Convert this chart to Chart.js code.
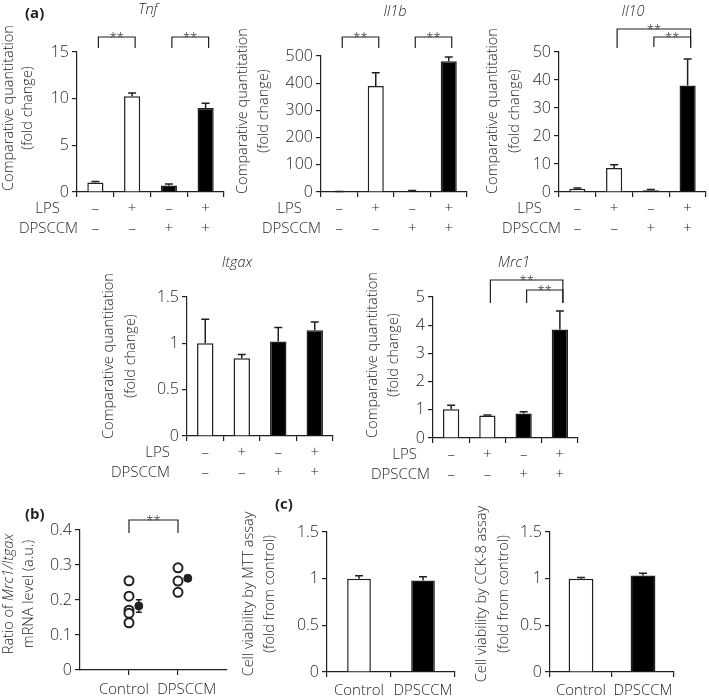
<!DOCTYPE html>
<html>
<head>
<meta charset="utf-8">
<script src="https://cdn.jsdelivr.net/npm/chart.js@4.4.1/dist/chart.umd.min.js"></script>
<style>
html, body { margin: 0; padding: 0; background: #fff; }
#fig { position: relative; width: 709px; height: 698px; }
#fig canvas { position: absolute; left: 0; top: 0; }
</style>
</head>
<body>
<div id="fig">
  <canvas id="tnf" width="709" height="698"></canvas>
  <canvas id="il1b" width="709" height="698"></canvas>
  <canvas id="il10" width="709" height="698"></canvas>
  <canvas id="itgax" width="709" height="698"></canvas>
  <canvas id="mrc1" width="709" height="698"></canvas>
  <canvas id="ratio" width="709" height="698"></canvas>
  <canvas id="mtt" width="709" height="698"></canvas>
  <canvas id="cck8" width="709" height="698"></canvas>
</div>
<script>
// treatment rows under the qPCR bars
var rowNames = ['LPS', 'DPSCCM'];
var lpsRow = ['–', '+', '–', '+'];
var dpsccmRow = ['–', '–', '+', '+'];
var barFill = ['#ffffff', '#ffffff', '#000000', '#000000'];

// (a) comparative quantitation, mean and upper SE
var tnfMean = [1.03, 10.25, 0.7, 9.0];
var tnfErr = [0.1, 0.35, 0.15, 0.5];
var il1bMean = [1.5, 390, 4, 481];
var il1bErr = [0.5, 48, 1.5, 15];
var il10Mean = [1.1, 8.6, 0.6, 38];
var il10Err = [0.35, 1.1, 0.3, 9.5];
var itgaxMean = [1.0, 0.84, 1.02, 1.14];
var itgaxErr = [0.26, 0.04, 0.15, 0.09];
var mrc1Mean = [1.02, 0.8, 0.87, 3.85];
var mrc1Err = [0.14, 0.02, 0.06, 0.65];

// y ranges: min, max, step
var tnfRange = [0, 15, 5];
var il1bRange = [0, 500, 100];
var il10Range = [0, 50, 10];
var itgaxRange = [0, 1.5, 0.5];
var mrc1Range = [0, 5, 1];
var ratioRange = [0, 0.4, 0.1];
var viabRange = [0, 1.5, 0.5];

// (b) Mrc1/Itgax ratio
var groups = ['Control', 'DPSCCM'];
var ratioControl = [0.255, 0.211, 0.171, 0.162, 0.135];
var ratioDPSCCM = [0.292, 0.254, 0.222];
var ratioMean = [0.183, 0.262];
var ratioErr = [0.018, 0.008];

// (c) cell viability
var mttMean = [1.0, 0.98];
var mttErr = [0.03, 0.04];
var cck8Mean = [1.0, 1.035];
var cck8Err = [0.012, 0.022];

var ink = '#231f20';
var fam = '"Open Sans", "Noto Sans", sans-serif';
var W = 709, H = 698;

function pad(box, yW, xH) {
    return { left: box[0] - yW, top: box[1], right: W - box[2], bottom: H - box[3] - xH };
}

function rich(ctx, parts) {
    var total = 0;
    parts.forEach(function (p) {
        ctx.font = (p[1] ? 'italic ' : '') + '300 14.5px ' + fam;
        total += ctx.measureText(p[0]).width;
    });
    var x = -total / 2;
    ctx.textAlign = 'left';
    parts.forEach(function (p) {
        ctx.font = (p[1] ? 'italic ' : '') + '300 14.5px ' + fam;
        ctx.fillText(p[0], x, 0);
        x += ctx.measureText(p[0]).width;
    });
}

function xAt(chart, i) {
    if (chart.config.type === 'bar') return chart.getDatasetMeta(0).data[i].x;
    return chart.scales.x.getPixelForValue(i + 1);
}

var errorBars = {
    id: 'errorBars',
    afterDatasetsDraw: function (chart) {
        var ctx = chart.ctx, y = chart.scales.y;
        ctx.save();
        ctx.strokeStyle = ink;
        ctx.lineWidth = 1.5;
        chart.data.datasets.forEach(function (ds, di) {
            if (!ds.err) return;
            chart.getDatasetMeta(di).data.forEach(function (el, i) {
                var v = typeof ds.data[i] === 'object' ? ds.data[i].y : ds.data[i];
                var hi = y.getPixelForValue(v + ds.err[i]);
                var lo = ds.errBoth ? y.getPixelForValue(v - ds.err[i]) : el.y;
                var cap = ds.capHalf || 4;
                ctx.beginPath();
                ctx.moveTo(el.x, lo);
                ctx.lineTo(el.x, hi);
                ctx.moveTo(el.x - cap, hi);
                ctx.lineTo(el.x + cap, hi);
                if (ds.errBoth) {
                    ctx.moveTo(el.x - cap, lo);
                    ctx.lineTo(el.x + cap, lo);
                }
                ctx.stroke();
            });
        });
        ctx.restore();
    }
};

function decor(d) {
    return {
        id: 'decor',
        afterDraw: function (chart) {
            var ctx = chart.ctx, a = chart.chartArea;
            ctx.save();
            ctx.fillStyle = ink;
            ctx.strokeStyle = ink;
            ctx.textBaseline = 'middle';
            if (d.letter) {
                ctx.font = 'bold 15px ' + fam;
                ctx.textAlign = 'left';
                ctx.fillText(d.letter[0], d.letter[1], d.letter[2]);
            }
            if (d.title) {
                ctx.font = 'italic 300 14.5px ' + fam;
                ctx.textAlign = 'center';
                ctx.fillText(d.title[0], d.title[1], d.title[2]);
            }
            d.yTitle.forEach(function (line, k) {
                ctx.save();
                ctx.translate(d.yTitleX[k], d.yTitleY);
                ctx.rotate(-Math.PI / 2);
                rich(ctx, typeof line === 'string' ? [[line, false]] : line);
                ctx.restore();
            });
            if (d.rowX) {
                ctx.font = '300 15px ' + fam;
                ctx.textAlign = 'right';
                ctx.fillText(rowNames[0], d.rowX[0], a.bottom + 17);
                ctx.fillText(rowNames[1], d.rowX[1], a.bottom + 37);
            }
            (d.brackets || []).forEach(function (b) {
                var sh = d.shift === undefined ? 3 : d.shift;
                var x1 = xAt(chart, b[0]) + sh, x2 = xAt(chart, b[1]) + sh;
                var yl = a.top + b[2], ya = a.top + b[3];
                ctx.lineWidth = 1.2;
                ctx.beginPath();
                ctx.moveTo(x1, ya);
                ctx.lineTo(x1, yl);
                ctx.lineTo(x2, yl);
                ctx.lineTo(x2, ya);
                ctx.stroke();
                ctx.font = '300 13px ' + fam;
                ctx.textAlign = 'center';
                ctx.textBaseline = 'alphabetic';
                ctx.fillText('**', (x1 + x2) / 2, yl + 5);
                ctx.textBaseline = 'middle';
            });
            ctx.restore();
        }
    };
}

function plainNum(v) {
    return String(Math.round(v * 100) / 100);
}

function yScale(range) {
    return {
        min: range[0], max: range[1],
        afterFit: function (s) { s.width = 40; },
        border: { display: true, color: ink, width: 1.2 },
        grid: { display: true, drawOnChartArea: false, drawTicks: true, tickLength: 5, color: ink, lineWidth: 1.2 },
        ticks: { stepSize: range[2], color: ink, padding: 3, font: { family: fam, size: 16, weight: '300' }, callback: plainNum }
    };
}

function barChart(id, o) {
    return new Chart(document.getElementById(id), {
        type: 'bar',
        data: {
            labels: o.labels,
            datasets: [{
                data: o.mean, err: o.err,
                backgroundColor: o.fill, borderColor: ink, borderWidth: 1.5,
                barPercentage: o.barPct, categoryPercentage: 1
            }]
        },
        options: {
            responsive: false, animation: false, events: [],
            layout: { padding: pad(o.box, 40, o.xH) },
            plugins: { legend: { display: false }, tooltip: { enabled: false } },
            scales: {
                x: {
                    offset: true,
                    afterFit: function (s) { s.height = o.xH; },
                    border: { display: true, color: ink, width: 1.2 },
                    grid: { display: true, drawOnChartArea: false, drawTicks: true, tickLength: 5, color: ink, lineWidth: 1.2, offset: true },
                    ticks: { color: ink, padding: o.tickPad, maxRotation: 0, autoSkip: false,
                        font: { family: fam, size: 15, weight: '300', lineHeight: 20 / 15 } }
                },
                y: yScale(o.range)
            }
        },
        plugins: [errorBars, decor(o.decor)]
    });
}

var treatLabels = lpsRow.map(function (s, i) { return [s, dpsccmRow[i]]; });
var qTitle = ['Comparative quantitation', '(fold change)'];

barChart('tnf', {
    labels: treatLabels, mean: tnfMean, err: tnfErr, fill: barFill, range: tnfRange,
    box: [77, 52, 224, 192], xH: 50, tickPad: 2, barPct: 0.44,
    decor: { letter: ['(a)', 25, 14], title: ['Tnf', 148, 10], yTitle: qTitle, yTitleX: [9, 28], yTitleY: 108,
        rowX: [60, 78], brackets: [[0, 1, -15, -4], [2, 3, -15, -4]] }
});
barChart('il1b', {
    labels: treatLabels, mean: il1bMean, err: il1bErr, fill: barFill, range: il1bRange,
    box: [321, 56, 467, 192], xH: 50, tickPad: 2, barPct: 0.44,
    decor: { title: ['Il1b', 395, 12], yTitle: qTitle, yTitleX: [243, 264], yTitleY: 111,
        rowX: [302, 321], brackets: [[0, 1, -19, -8], [2, 3, -19, -8]] }
});
barChart('il10', {
    labels: treatLabels, mean: il10Mean, err: il10Err, fill: barFill, range: il10Range,
    box: [559, 52, 706, 192], xH: 50, tickPad: 2, barPct: 0.44,
    decor: { title: ['Il10', 633, 12], yTitle: qTitle, yTitleX: [493, 515], yTitleY: 111,
        rowX: [542, 561], brackets: [[1, 3, -23, -4], [2, 3, -15, -5]] }
});
barChart('itgax', {
    labels: treatLabels, mean: itgaxMean, err: itgaxErr, fill: barFill, range: itgaxRange,
    box: [187, 297, 333, 436], xH: 50, tickPad: 2, barPct: 0.45,
    decor: { title: ['Itgax', 237, 263], yTitle: qTitle, yTitleX: [109, 131], yTitleY: 356,
        rowX: [170, 170] }
});
barChart('mrc1', {
    labels: treatLabels, mean: mrc1Mean, err: mrc1Err, fill: barFill, range: mrc1Range,
    box: [433, 297, 578, 438], xH: 50, tickPad: 2, barPct: 0.45,
    decor: { title: ['Mrc1', 514, 263], yTitle: qTitle, yTitleX: [373, 394], yTitleY: 355,
        rowX: [417, 430], brackets: [[1, 3, -17, 6], [2, 3, -7, 6]] }
});

// labels sit a little off their tick marks in panel (b); spaces nudge them apart
var ratioTickText = [groups[0] + '\u2002\u2009', '\u2003\u2009' + groups[1]];

new Chart(document.getElementById('ratio'), {
    type: 'scatter',
    data: {
        datasets: [{
            data: ratioControl.map(function (v) { return { x: 1, y: v }; }),
            pointRadius: 4.5, pointBorderWidth: 2, pointBorderColor: ink, pointBackgroundColor: '#ffffff'
        }, {
            data: ratioDPSCCM.map(function (v) { return { x: 2, y: v }; }),
            pointRadius: 4.5, pointBorderWidth: 2, pointBorderColor: ink, pointBackgroundColor: '#ffffff'
        }, {
            data: ratioMean.map(function (v, i) { return { x: i + 1.2, y: v }; }),
            err: ratioErr, errBoth: true, capHalf: 3,
            pointRadius: 4, pointBorderWidth: 1, pointBorderColor: ink, pointBackgroundColor: ink
        }]
    },
    options: {
        responsive: false, animation: false, events: [],
        layout: { padding: pad([80, 530, 227, 670], 40, 25) },
        plugins: { legend: { display: false }, tooltip: { enabled: false } },
        scales: {
            x: {
                type: 'linear', min: 0, max: 3,
                afterFit: function (s) { s.height = 25; },
                afterBuildTicks: function (s) { s.ticks = groups.map(function (g, i) { return { value: i + 1 }; }); },
                border: { display: true, color: ink, width: 1.2 },
                grid: { display: true, drawOnChartArea: false, drawTicks: true, tickLength: 5, color: ink, lineWidth: 1.2 },
                ticks: { color: ink, padding: 6, maxRotation: 0, autoSkip: false, font: { family: fam, size: 15, weight: '300' },
                    callback: function (v) { return ratioTickText[Math.round(v) - 1]; } }
            },
            y: yScale(ratioRange)
        }
    },
    plugins: [errorBars, decor({ letter: ['(b)', 25, 515],
        yTitle: [[['Ratio of ', false], ['Mrc1/Itgax', true]], 'mRNA level (a.u.)'], yTitleX: [9, 29], yTitleY: 594,
        shift: 0, brackets: [[0, 1, -10, 3]] })]
});

barChart('mtt', {
    labels: groups, mean: mttMean, err: mttErr, fill: ['#ffffff', '#000000'], range: viabRange,
    box: [327, 532, 455, 672], xH: 25, tickPad: 4, barPct: 0.37,
    decor: { letter: ['(c)', 275, 505], yTitle: ['Cell viability by MTT assay', '(fold from control)'],
        yTitleX: [249, 270], yTitleY: 594 }
});
barChart('cck8', {
    labels: groups, mean: cck8Mean, err: cck8Err, fill: ['#ffffff', '#000000'], range: viabRange,
    box: [550, 532, 674, 672], xH: 25, tickPad: 4, barPct: 0.4,
    decor: { yTitle: ['Cell viability by CCK-8 assay', '(fold from control)'],
        yTitleX: [482, 504], yTitleY: 594 }
});
</script>
</body>
</html>
